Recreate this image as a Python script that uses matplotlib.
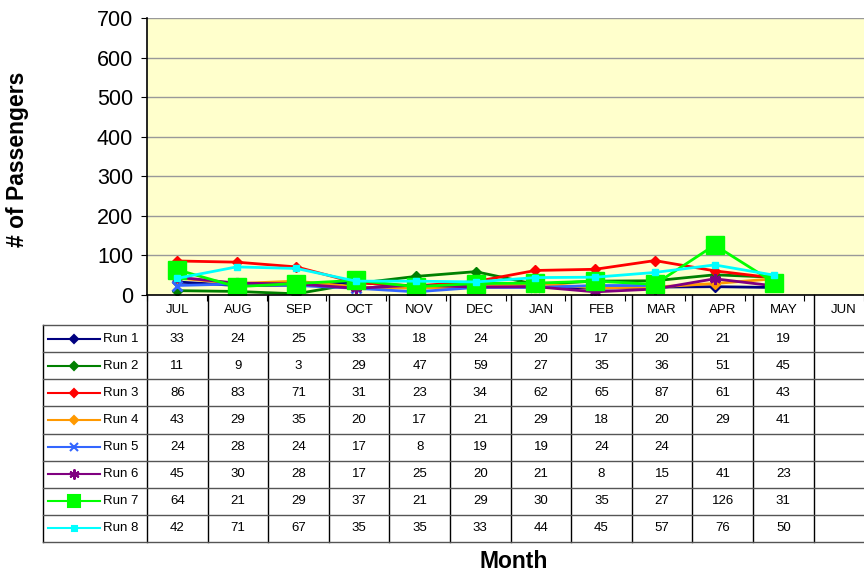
import matplotlib.pyplot as plt
import numpy as np

plt.rcParams['font.family'] = ['Liberation Sans', 'DejaVu Sans']

months = ["JUL", "AUG", "SEP", "OCT", "NOV", "DEC", "JAN", "FEB", "MAR", "APR", "MAY", "JUN"]
nan = np.nan
run1 = [33, 24, 25, 33, 18, 24, 20, 17, 20, 21, 19, nan]
run2 = [11, 9, 3, 29, 47, 59, 27, 35, 36, 51, 45, nan]
run3 = [86, 83, 71, 31, 23, 34, 62, 65, 87, 61, 43, nan]
run4 = [43, 29, 35, 20, 17, 21, 29, 18, 20, 29, 41, nan]
run5 = [24, 28, 24, 17, 8, 19, 19, 24, 24, nan, nan, nan]
run6 = [45, 30, 28, 17, 25, 20, 21, 8, 15, 41, 23, nan]
run7 = [64, 21, 29, 37, 21, 29, 30, 35, 27, 126, 31, nan]
run8 = [42, 71, 67, 35, 35, 33, 44, 45, 57, 76, 50, nan]
runs = [run1, run2, run3, run4, run5, run6, run7, run8]
names = ["Run 1", "Run 2", "Run 3", "Run 4", "Run 5", "Run 6", "Run 7", "Run 8"]
colors = ["#000080", "#008000", "#FF0000", "#FF9900", "#3366FF", "#800080", "#00FF00", "#00FFFF"]
markers = ["D", "D", "D", "D", "x", (6, 2, 0), "s", "s"]
msizes = [5, 5, 5, 5, 7, 8, 13, 4]

W, H = 864, 573
fig = plt.figure(figsize=(W / 100, H / 100), dpi=100)

col_w = 60.6
ax_l, ax_top, ax_bot = 147, 18, 295
ax = fig.add_axes([ax_l / W, 1 - ax_bot / H, (W - ax_l) / W, (ax_bot - ax_top) / H])
x = np.arange(len(months))
right_lim = -0.5 + (W - ax_l) / col_w
ax.set_xlim(-0.5, right_lim)
ax.set_ylim(0, 700)
ax.set_facecolor("#FFFFCC")
ax.set_yticks(range(0, 701, 100))
ax.yaxis.grid(True, color="#999999", lw=1)
ax.set_axisbelow(True)
ax.set_xticks(np.arange(-0.5, 12, 1))
ax.set_xticklabels([])
ax.tick_params(axis="y", labelsize=15.5, length=4, direction="out", pad=6)
ax.tick_params(axis="x", length=4, direction="out")
for s in ["top", "right"]:
    ax.spines[s].set_visible(False)
ax.spines["left"].set_linewidth(1.2)
ax.spines["bottom"].set_linewidth(1.2)

for vals, c, m, ms in zip(runs, colors, markers, msizes):
    ax.plot(x, vals, color=c, marker=m, markersize=ms, lw=2, mec=c, mfc=c,
            mew=2 if m == "x" or isinstance(m, tuple) else 1)

fig.text(18 / W, 1 - 159 / H, "# of Passengers", rotation=90, ha="center", va="center",
         fontsize=16.5, fontweight="bold")
fig.text(514 / W, 1 - 562 / H, "Month", ha="center", va="center", fontsize=16.5, fontweight="bold")

# data table below the plot
tb_l, tb_top, tb_bot = 43, 295, 542
tax = fig.add_axes([tb_l / W, 1 - tb_bot / H, (W - tb_l) / W, (tb_bot - tb_top) / H])
key_w = (ax_l - tb_l) / col_w
tax.set_xlim(-0.5 - key_w, right_lim)
row_h = [30] + [27.1] * 8
edges = np.concatenate([[0], np.cumsum(row_h)])
tax.set_ylim(edges[-1], 0)
tax.axis("off")

n_cols = len(months)
for i, mth in enumerate(months):
    tax.text(i, (edges[0] + edges[1]) / 2, mth, ha="center", va="center", fontsize=9.5)
for r, (vals, nm, c, m, ms) in enumerate(zip(runs, names, colors, markers, msizes)):
    yc = (edges[r + 1] + edges[r + 2]) / 2
    for i, v in enumerate(vals):
        if not np.isnan(v):
            tax.text(i, yc, f"{int(v)}", ha="center", va="center", fontsize=9.5)
    x0 = -0.5 - key_w + 5 / col_w
    x1 = -0.5 - key_w + 57 / col_w
    tax.plot([x0, x1], [yc, yc], color=c, lw=1.5, clip_on=False)
    tax.plot([(x0 + x1) / 2], [yc], color=c, marker=m, markersize=min(ms, 10) * 0.9, mec=c, mfc=c,
             mew=1.5, clip_on=False)
    tax.text(-0.5 - key_w + 60 / col_w, yc, nm, ha="left", va="center", fontsize=9.5)

# grid lines of the table
for k in range(n_cols + 1):
    xb = k - 0.5
    tax.plot([xb, xb], [edges[0], edges[-1]], color="black", lw=1, clip_on=False)
left_edge = -0.5 - key_w
tax.plot([left_edge, left_edge], [edges[1], edges[-1]], color="black", lw=1, clip_on=False)
for r in range(1, len(edges)):
    tax.plot([left_edge, right_lim], [edges[r], edges[r]], color="#555555", lw=1, clip_on=False)

fig.savefig("out.png", dpi=100)
